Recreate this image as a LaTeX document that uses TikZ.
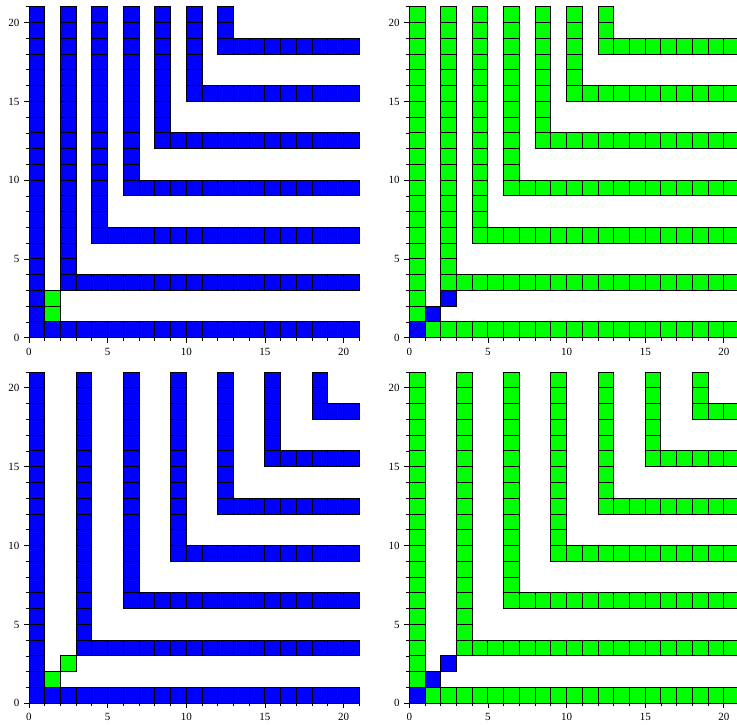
\documentclass[tikz,border=0pt]{standalone}
\usepackage{fontspec}
\setmainfont{Liberation Serif}
\definecolor{cblue}{RGB}{0,0,255}
\definecolor{cgreen}{RGB}{0,255,0}
\tikzset{
  cellbox/.style={draw=black, line width=1pt},
  axisline/.style={draw=black, line width=0.9pt},
  ticklab/.style={font=\fontsize{11}{12}\selectfont, inner sep=0pt},
}
\newcommand\cellat[3]{\filldraw[cellbox, fill=#3] (#1,#2) rectangle ++(1,1);}
\newcommand\panelaxes{%
  \draw[axisline] (0,0) -- (21,0);
  \draw[axisline] (0,0) -- (0,21);
  \foreach \t in {1,...,21} {
    \draw[axisline] (\t,0) -- ++(0,-3pt);
    \draw[axisline] (0,\t) -- ++(-3pt,0);
  }
  \foreach \t in {0,5,10,15,20} {
    \draw[axisline] (\t,0) -- ++(0,-5pt);
    \draw[axisline] (0,\t) -- ++(-5pt,0);
    \node[ticklab] at ([yshift=-13.8pt]\t,0) {\t};
    \node[ticklab, anchor=east] at ([xshift=-9.5pt]0,\t) {\t};
  }
}
% L shapes: #1 = x step, #2 = y step, #3 colour
\newcommand\lshapes[3]{%
  \foreach \k [evaluate=\k as \cx using int(#1*\k), evaluate=\k as \cy using int(#2*\k)] in {1,...,6} {
    \foreach \yy in {\cy,...,20} { \cellat{\cx}{\yy}{#3} }
    \foreach \xx in {\cx,...,20} { \cellat{\xx}{\cy}{#3} }
  }
}
\begin{document}
\begin{tikzpicture}[x=1pt,y=1pt]
\useasboundingbox (0,0) rectangle (737,-725);
\fill[white] (0,0) rectangle (737,-725);

% Panel 1 (top left)
\begin{scope}[shift={(29pt,-337.7pt)}, x=15.73pt, y=15.75pt]
  \foreach \xx in {0,...,20} { \cellat{\xx}{0}{cblue} }
  \foreach \yy in {1,...,20} { \cellat{0}{\yy}{cblue} }
  \cellat{1}{1}{cgreen}
  \cellat{1}{2}{cgreen}
  \lshapes{2}{3}{cblue}
  \panelaxes
\end{scope}

% Panel 2 (top right)
\begin{scope}[shift={(409.3pt,-337.7pt)}, x=15.73pt, y=15.75pt]
  \cellat{0}{0}{cblue}
  \foreach \xx in {1,...,20} { \cellat{\xx}{0}{cgreen} }
  \foreach \yy in {1,...,20} { \cellat{0}{\yy}{cgreen} }
  \cellat{1}{1}{cblue}
  \cellat{2}{2}{cblue}
  \lshapes{2}{3}{cgreen}
  \panelaxes
\end{scope}

% Panel 3 (bottom left)
\begin{scope}[shift={(29pt,-703.3pt)}, x=15.73pt, y=15.77pt]
  \foreach \xx in {0,...,20} { \cellat{\xx}{0}{cblue} }
  \foreach \yy in {1,...,20} { \cellat{0}{\yy}{cblue} }
  \cellat{1}{1}{cgreen}
  \cellat{2}{2}{cgreen}
  \lshapes{3}{3}{cblue}
  \panelaxes
\end{scope}

% Panel 4 (bottom right)
\begin{scope}[shift={(409.3pt,-703.3pt)}, x=15.73pt, y=15.77pt]
  \cellat{0}{0}{cblue}
  \foreach \xx in {1,...,20} { \cellat{\xx}{0}{cgreen} }
  \foreach \yy in {1,...,20} { \cellat{0}{\yy}{cgreen} }
  \cellat{1}{1}{cblue}
  \cellat{2}{2}{cblue}
  \lshapes{3}{3}{cgreen}
  \panelaxes
\end{scope}
\end{tikzpicture}
\end{document}
